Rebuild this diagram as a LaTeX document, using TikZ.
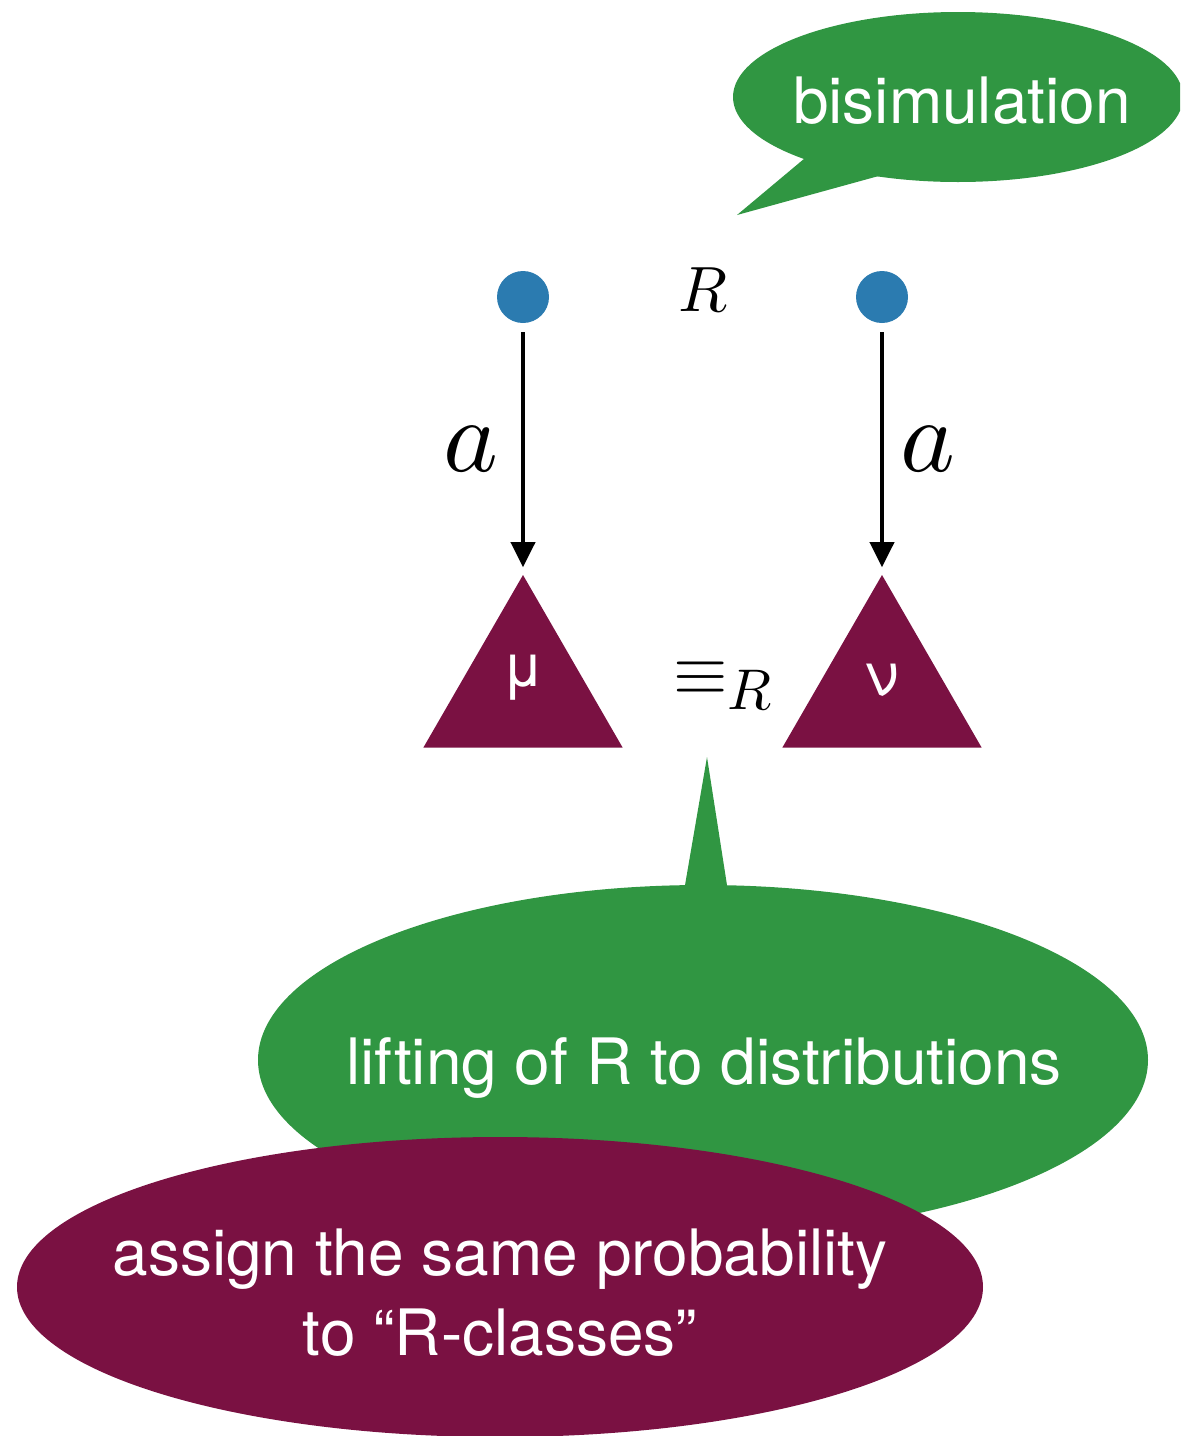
\documentclass[tikz,border=0pt]{standalone}
\usepackage{graphicx}
\usepackage{fontspec}
\setmainfont{TeX Gyre Heros}
\usetikzlibrary{shapes.geometric,arrows.meta}
\definecolor{bgreen}{RGB}{48,150,66}
\definecolor{maroon}{RGB}{122,17,66}
\definecolor{dotblue}{RGB}{43,123,176}
\tikzset{
  bubble/.style={ellipse, fill=bgreen, draw=none, text=white, inner sep=0pt},
  mbubble/.style={ellipse, fill=maroon, draw=none, text=white, inner sep=0pt, align=center},
  state/.style={circle, fill=dotblue, draw=none, minimum size=26pt, inner sep=0pt},
  dist/.style={regular polygon, regular polygon sides=3, fill=maroon, draw=none, minimum size=115pt, inner sep=0pt},
  trans/.style={line width=1.9pt, -{Triangle[length=12.5pt,width=12pt]}, shorten <=4.5pt, shorten >=3.5pt},
  bigfont/.style={font=\fontsize{32}{40}\selectfont},
  mathlbl/.style={inner sep=0pt}
}
\begin{document}
\begin{tikzpicture}[x=0.5pt,y=-0.5pt]
\clip (0,0) rectangle (1180,1436);
% top bubble
\fill[bgreen] (817,148) -- (737,215) -- (895,171.5) -- cycle;
\node[bubble, minimum width=225pt, minimum height=85pt, bigfont] (bisim) at (958,97) {};
\node[text=white, bigfont] (bisimtxt) at (962,101) {bisimulation};
% states
\node[state] (s) at (523,297) {};
\node[state] (t) at (882,297) {};
\node[mathlbl] (R) at (703,290) {\scalebox{3.2}{$R$}};
% distributions
\node[dist] (mu) at (523,690) {};
\node[dist] (nu) at (882,690) {};
\node[text=white, font=\fontsize{30}{36}\selectfont] (mulbl) at (523,678) {μ};
\node[text=white, font=\fontsize{30}{36}\selectfont] (nulbl) at (882,680) {ν};
\draw[trans] (s) -- (mu.corner 1);
\draw[trans] (t) -- (nu.corner 1);
\node[mathlbl] (a1) at (471,449) {\scalebox{5.2}{$a$}};
\node[mathlbl] (a2) at (928,449) {\scalebox{5.2}{$a$}};
\node[mathlbl] (eqR) at (724,686) {\scalebox{3.5}{$\equiv_{\mbox{\scalebox{0.82}{$R$}}}$}};
% lifting bubble
\fill[bgreen] (707,757) -- (681.6,905) -- (730.1,905) -- cycle;
\node[bubble, minimum width=445pt, minimum height=175pt] (lift) at (703,1060) {};
\node[text=white, bigfont] (lifttxt) at (704,1068) {lifting of R to distributions};
% assign bubble
\node[mbubble, minimum width=483pt, minimum height=150pt] (assign) at (500,1287) {};
\node[text=white, bigfont, align=center] (assigntxt) at (500,1293) {assign the same probability\\to “R-classes”};
\end{tikzpicture}
\end{document}
